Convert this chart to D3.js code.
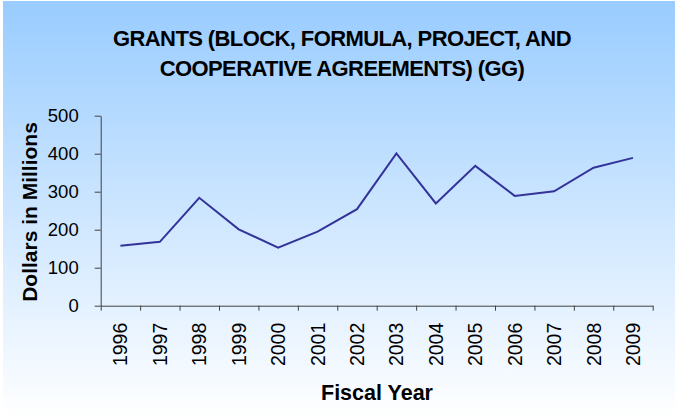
<!DOCTYPE html>
<html lang="en">
<head>
  <meta charset="UTF-8">
  <title>Grants (GG)</title>
  <script src="https://d3js.org/d3.v7.min.js"></script>
  <style>
    html, body { margin: 0; padding: 0; background: #fff; }
    svg { display: block; font-family: "Liberation Sans", Arial, sans-serif; }
    .axis path, .axis line { stroke: #404040; stroke-width: 1px; }
    .axis text { fill: #000; }
  </style>
</head>
<body>
  <svg width="675" height="417"></svg>
  <script>
    // data
    const years = ["1996", "1997", "1998", "1999", "2000", "2001", "2002",
                   "2003", "2004", "2005", "2006", "2007", "2008", "2009"];
    const grants = [158, 168, 284, 201, 153, 195, 254, 401, 269, 368, 289, 301, 363, 389];
    const yTicks = [0, 100, 200, 300, 400, 500];
    const titleLines = ["GRANTS (BLOCK, FORMULA, PROJECT, AND", "COOPERATIVE AGREEMENTS) (GG)"];

    const W = 675, H = 417;
    const plot = { left: 100.7, right: 652.7, top: 115.7, bottom: 305.7 };

    const svg = d3.select("svg");

    // background gradient
    const grad = svg.append("defs").append("linearGradient")
      .attr("id", "bg").attr("x1", 0).attr("y1", 0).attr("x2", 0).attr("y2", 1);
    grad.append("stop").attr("offset", "0%").attr("stop-color", "#99ccff");
    grad.append("stop").attr("offset", "100%").attr("stop-color", "#ffffff");
    svg.append("rect")
      .attr("x", 3).attr("y", 1).attr("width", W - 3).attr("height", H - 1)
      .attr("fill", "url(#bg)");

    // scales
    const x = d3.scaleBand().domain(years).range([plot.left, plot.right]);
    const xEdges = d3.scaleLinear().domain([0, years.length]).range([plot.left, plot.right]);
    const y = d3.scaleLinear().domain([0, 500]).range([plot.bottom, plot.top]);

    // y axis
    svg.append("g")
      .attr("class", "axis")
      .attr("transform", `translate(${plot.left},0)`)
      .call(d3.axisLeft(y).tickValues(yTicks).tickSize(6).tickSizeOuter(0).tickPadding(16))
      .selectAll("text")
      .style("font-size", "18.5px");

    // x axis: ticks at category boundaries
    svg.append("g")
      .attr("class", "axis")
      .attr("transform", `translate(0,${plot.bottom})`)
      .call(d3.axisBottom(xEdges).tickValues(d3.range(years.length + 1)).tickSize(5)
        .tickSizeOuter(0).tickFormat(""));

    // x labels (rotated)
    const xl = svg.append("g")
      .attr("class", "axis")
      .attr("transform", `translate(0,${plot.bottom})`)
      .call(d3.axisBottom(x).tickSize(0).tickPadding(0));
    xl.select(".domain").remove();
    xl.selectAll("text")
      .style("font-size", "19.5px")
      .attr("text-anchor", "end")
      .attr("transform", "rotate(-90)")
      .attr("x", -17)
      .attr("y", 0)
      .attr("dy", "0.36em");

    // line
    const line = d3.line()
      .x((d, i) => x(years[i]) + x.bandwidth() / 2)
      .y(d => y(d));
    svg.append("path")
      .datum(grants)
      .attr("d", line)
      .attr("fill", "none")
      .attr("stroke", "#333399")
      .attr("stroke-width", 2)
      .attr("stroke-linejoin", "miter");

    // title
    svg.append("text")
      .attr("x", 342)
      .attr("text-anchor", "middle")
      .style("font-size", "22px")
      .style("font-weight", "bold")
      .style("letter-spacing", "-0.6px")
      .selectAll("tspan")
      .data(titleLines)
      .enter()
      .append("tspan")
      .attr("x", 342)
      .attr("y", (d, i) => 46 + i * 30)
      .text(d => d);

    // axis titles
    svg.append("text")
      .attr("transform", "translate(37,212) rotate(-90)")
      .attr("text-anchor", "middle")
      .style("font-size", "21px")
      .style("font-weight", "bold")
      .text("Dollars in Millions");

    svg.append("text")
      .attr("x", 377)
      .attr("y", 400)
      .attr("text-anchor", "middle")
      .style("font-size", "21.5px")
      .style("font-weight", "bold")
      .text("Fiscal Year");
  </script>
</body>
</html>
